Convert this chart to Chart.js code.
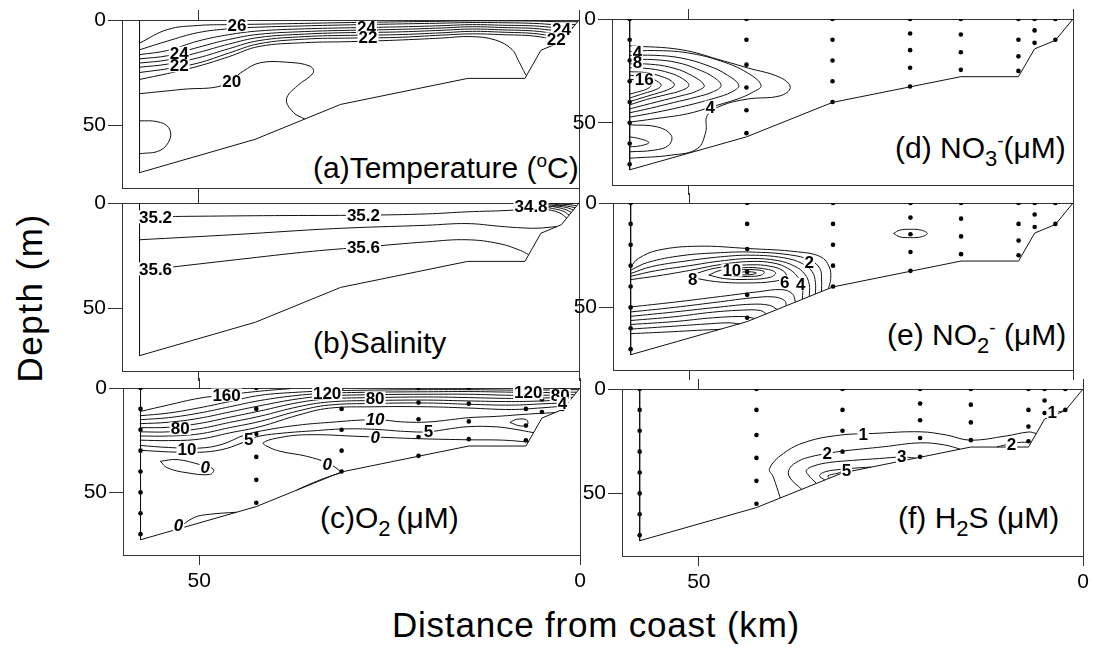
<!DOCTYPE html>
<html>
<head>
<meta charset="utf-8">
<title>Coastal section</title>
<script src="https://cdn.jsdelivr.net/npm/chart.js@4.4.1/dist/chart.umd.min.js"></script>
<style>
  body { margin: 0; background: #fff; }
  #fig { position: relative; width: 1093px; height: 649px; overflow: hidden; font-family: "Liberation Sans", Arial, sans-serif; color: #000; }
  #fig canvas { position: absolute; }
  .ttl { position: absolute; font-size: 30px; line-height: 30px; white-space: nowrap; }
  .ttl .sub { font-size: 22px; line-height: 0; position: relative; top: 8px; }
  .ttl .sup { font-size: 19px; line-height: 0; position: relative; top: -11px; }
  .ax { position: absolute; font-size: 35px; line-height: 35px; white-space: nowrap; }
</style>
</head>
<body>
<div id="fig">
  <div class="ttl" style="left:313px;top:153px">(a)Temperature (<span class="sup">o</span>C)</div>
  <div class="ttl" style="left:313px;top:328px">(b)Salinity</div>
  <div class="ttl" style="left:320px;top:503px">(c)O<span class="sub">2</span>&thinsp;(μM)</div>
  <div class="ttl" style="left:895px;top:133px">(d) NO<span class="sub">3</span><span class="sup">-</span>(μM)</div>
  <div class="ttl" style="left:887px;top:320px">(e) NO<span class="sub">2</span><span class="sup">-</span> (μM)</div>
  <div class="ttl" style="left:898px;top:503px">(f) H<span class="sub">2</span>S (μM)</div>
  <div class="ax" style="left:596px;top:607px;transform:translateX(-50%);letter-spacing:0.8px">Distance from coast (km)</div>
  <div class="ax" style="left:29px;top:298px;transform:translate(-50%,-50%) rotate(-90deg);letter-spacing:1.5px">Depth (m)</div>
</div>
<script>
// axes: distance from coast (km, coast on the right) and depth (m, down)
const depthTicks = [0, 50]
const distTicks = [50, 0]

// stations and bottles
const stationKm = [57.7, 42.5, 31.3, 21.2, 14.6, 7.1, 5.0, 2.3]
const sampleDepth = [
  [0, 10, 20, 30, 40, 50, 60, 70],
  [0, 10, 22, 33, 44, 55],
  [0, 10, 20, 30, 40],
  [0, 7, 15, 23.5, 32.5],
  [0, 7.5, 16, 24.5],
  [0, 10, 18, 25],
  [0, 5.5, 11.5],
  [0, 10]
]

// section outline (left edge + sea floor)
const bottomKm = [57.7, 57.7, 42.5, 31.3, 21.2, 14.6, 7.1, 5.0, 2.3, 0]
const bottomDepth = [0, 72.7, 56.8, 40.2, 32.7, 27.8, 27.8, 14.4, 10.3, 0]

// (a) temperature isolines, [km, depth]
const tempLines = [
  [[57.7,11],[54,4.5],[50,2.6],[46,2.2],[42,2.0],[36,1.6],[30,1.2],[24,0.9],[18,0.6],[14,0.4],[10,0.4],[6,0.5],[3,0.8],[0.18,0.8]],
  [[57.7,14.2],[54,10],[50,6],[46,4.2],[42,3.4],[36,2.8],[30,2.3],[24,1.9],[18,1.5],[14,1.2],[10,1.3],[6,1.6],[3,2.2],[0.5,2.2]],
  [[57.7,16.5],[54,14.5],[50,10],[46,7],[42,5.2],[36,4.2],[30,3.7],[24,3.3],[18,2.7],[14,2.2],[10,2.5],[6,2.8],[3,3.6],[0.8,3.6]],
  [[57.7,18.5],[54,17],[50,13],[46,9.3],[42,6.8],[36,5.5],[30,4.9],[24,4.5],[18,3.8],[14,3.2],[10,3.6],[6,4.0],[3,5.0],[1.12,5.0]],
  [[57.7,20.5],[54,19],[50,15.5],[46,11.5],[42,8.3],[36,6.7],[30,6.0],[24,5.7],[18,4.9],[14,4.3],[10,4.7],[6,5.2],[3,6.4],[1.43,6.4]],
  [[57.7,22.5],[54,21],[50,18],[46,13.7],[42,9.8],[36,7.9],[30,7.3],[24,7.0],[18,6.1],[14,5.4],[10,5.8],[6,6.4],[3,7.8],[1.74,7.8]],
  [[57.7,25],[54,23.2],[50,20.5],[46,15.8],[42,11.3],[36,9.1],[30,8.6],[24,8.3],[18,7.2],[14,6.6],[10,7.0],[6,7.6],[3,9.3],[2.08,9.3]],
  [[57.7,28.3],[54,25.5],[50,22],[46,17.5],[42,12.6],[36,10.8],[30,10.3],[24,9.6],[18,8.6],[14.3,7.9],[11,9.5],[8.8,14],[8,19],[7.3,24],[6.9,26.5]],
  [[57.7,35.1],[52,33],[46.7,31.1],[44.1,24.4],[41.9,20.4],[38.4,20.1],[35.3,22],[34.9,25.2],[37,31.4],[38.4,37.7],[37.5,44],[36,47.2]],
  [[57.7,48],[55.4,48.4],[53.9,51.1],[53.7,56.6],[55,62.1],[57.7,63.7]]
]
const tempLabels = [
  [44.9, 2.4, '26'], [27.9, 3.6, '24'], [27.7, 8.4, '22'], [52.5, 15.8, '24'],
  [52.5, 21.8, '22'], [45.6, 29.3, '20'], [2.3, 4.6, '24'], [3.0, 9.0, '22']
]

// (b) salinity isolines
const salLines = [
  [[57.7,6.6],[50,6.3],[40,6],[28.3,5.8],[20,5.2],[14.7,4.2],[8.6,3.4],[5,2.2],[2.5,1.2],[0.8,0.3]],
  [[57.7,17.5],[45,15],[32.2,12.2],[20,10.6],[14.7,9.8],[10.4,11.1],[8.2,11.7],[5.5,12],[2.9,11.2]],
  [[57.7,32.2],[55.6,31.4],[45,27],[35,23],[28.3,21],[20,18.5],[14.7,17.5],[10.4,19.4],[7.7,22.6],[6.6,24.6]],
  [[8.5,0.3],[6,1.8],[4,3.2],[2.5,4.8],[1.6,7.2]],
  [[7.5,0.2],[5.5,1.3],[3.5,2.6],[2,4],[1.3,5.8]],
  [[6.5,0.1],[4.8,1],[3,2],[1.7,3.2],[1.0,4.5]],
  [[5.5,0.1],[4,0.8],[2.5,1.6],[1.4,2.4],[0.75,3.4]],
  [[4.5,0.1],[3.2,0.6],[2,1.2],[1.1,1.8],[0.5,2.2]],
  [[3.5,0.05],[2.4,0.4],[1.4,0.8],[0.3,1.3]]
]
const salLabels = [
  [55.6, 6.6, '35.2'], [28.3, 5.8, '35.2'], [28.3, 21, '35.6'], [55.6, 31.4, '35.6'], [6.3, 1.8, '34.8']
]

// (c) oxygen isolines
const o2Lines = [
  [[57.8,11.3],[54,8.1],[50,4.9],[46.4,3.3],[42,1.5],[38,0.3]],
  [[57.8,13.3],[54,12],[50,9.5],[46,6.5],[42,3.5],[37,2.0],[33,1.4],[27,1.0],[20,0.8],[14.6,0.8],[9,1.0],[5,1.0],[2.5,0.8],[0.18,0.8]],
  [[57.8,15.2],[54,14.2],[50,12],[46,9],[42,6.0],[37,3.5],[33,2.5],[27,2.0],[20,1.8],[14.6,1.7],[9,2.0],[5,2.2],[2.5,2.0],[0.45,2.0]],
  [[57.8,17.1],[54,16.4],[50,14.5],[46,11.5],[42,8.5],[37,5.2],[33,3.8],[27,3.2],[20,3.0],[14.6,3.0],[9,3.5],[5,3.5],[2.5,3.2],[0.71,3.2]],
  [[57.8,19],[54,18.8],[50,17],[46,14],[42,11],[37,7.0],[33,5.2],[27,4.6],[20,4.3],[14.6,4.6],[9,5.0],[5,4.8],[2.5,4.5],[1.0,4.5]],
  [[57.8,21],[54,21],[50,19.5],[46,16.5],[42,13.5],[37,9],[33,6.7],[27,6.0],[20,5.8],[14.6,6.2],[9,6.5],[5,6.2],[2.5,5.8],[1.3,5.8]],
  [[57.8,23],[54,23],[50,22],[46,19],[42,16],[37,11],[33,8.2],[27,7.4],[20,7.2],[14.6,7.8],[9,8.2],[5,7.6],[2.5,7.2],[1.6,7.2]],
  [[57.8,25],[54,25.2],[50,24.5],[46,21.5],[42,18.5],[37,13],[33,9.7],[27,9.0],[20,9.0],[14.6,9.6],[9,10.3],[5,9.5],[2.5,8.8],[2.0,8.8]],
  [[57.8,27.5],[54,28.5],[50,28.8],[47,27],[44,22.5],[41,20],[37,17.8],[33,16.5],[27,15.2],[23,16.3],[20,16.3],[17,15.2],[14.6,14.2],[11,13.6],[8,12.8],[5.5,12.2],[3.3,11.8]],
  [[57.8,29.8],[54,30.6],[50,30.8],[47,29.5],[44.5,26.5],[43.5,24.8],[42,23],[39,21.6],[35,20.5],[31,19.6],[27,19.8],[23,20.8],[20,21],[17,19.5],[14.6,18.5],[11,18.6],[8.5,19.8],[6.1,21.4]],
  [[6.8,25.9],[10,25],[14.7,24.8],[21,24.3],[28.9,23.2],[35.9,22.4],[39.8,24],[41.6,26.3],[41.1,27.9],[39.4,30.3],[35.9,32.7],[33,36.2],[31.3,40.2]],
  [[55.1,35.1],[52.9,34.3],[49.9,36.7],[48.1,39],[48.6,41.4],[51.6,40.6],[54.2,38.2],[55.1,35.1]],
  [[52.9,67.7],[50.7,62.1],[48.6,60.5],[45.1,59.5]],
  [[37.2,48.9],[35,45.3],[33,42.5],[31.5,40.8]],
  [[9.2,16.5],[8.3,15],[7,15.3],[6.9,17.5],[7.8,18.2],[9.2,16.5]]
]
const o2Labels = [
  [46.4, 3.3, '160'], [33.2, 2.5, '120'], [26.9, 4.8, '80'], [6.8, 2.3, '120'], [2.6, 3.6, '80'],
  [52.5, 19.5, '80'], [51.6, 29.3, '10'], [43.5, 24.8, '5'], [19.9, 20.8, '5'], [2.3, 7.4, '4']
]
const o2LabelsItalic = [
  [26.9, 15.2, '10'], [26.9, 23.8, '0'], [33.2, 36.7, '0'], [49.2, 37.8, '0'], [52.7, 65.7, '0']
]

// (d) nitrate isolines
const no3Lines = [
  [[57.7,12.9],[51,14.8],[45.4,20.3],[42.4,23.5],[38.1,28.2],[36.8,33],[38.1,37],[42.4,38.6],[45.8,41.8],[47.6,46.5],[47.8,54.4],[48.9,62.5],[52.3,65.6],[57.7,67.1]],
  [[57.7,15.6],[54.5,15.2],[50.2,16.3],[45.8,20.3],[42.4,25.9],[40.6,32],[41.8,35.5],[43.7,38.6],[47.2,42.5],[50.2,45.7],[54.5,48.1],[57.7,49.7]],
  [[57.7,17.6],[54.5,17.5],[51,18.8],[47.5,22.5],[45,27],[43.5,32],[44.5,35.3],[46.5,38],[50,41.5],[54,44.8],[57.7,47.3]],
  [[57.7,19.5],[54.5,19.6],[51.5,21],[49,24],[46.8,28],[45.8,32],[46.8,35],[49,37.6],[52,40.3],[55,43],[57.7,45.2]],
  [[57.7,21.6],[55,21.8],[52.5,23.2],[50,26.5],[48,32],[49,34.8],[51,37],[54,39.8],[57.7,43.3]],
  [[57.7,23.5],[55,24],[52.5,26],[50.8,28.8],[50,32],[51,34.5],[53,36.5],[55.5,38.8],[57.7,41.4]],
  [[57.7,25.4],[55.5,25.9],[53.5,27.8],[52.3,29.8],[51.9,32],[52.8,34.2],[54.5,36.2],[57.7,39.8]],
  [[57.7,27.1],[55.5,28],[54.2,29.8],[53.6,32],[54.3,34],[55.8,35.8],[57.7,38.1]],
  [[57.7,29],[56,30],[55.1,31.3],[54.9,32.2],[55.5,33.8],[56.5,35],[57.7,36.2]],
  [[57.7,51],[54.1,52],[52.3,56],[52.6,60.8],[54.5,63.2],[57.7,64]],
  [[57.7,56.8],[56.5,57.6],[55.2,59.5],[56.3,61.1],[57.7,61.6]]
]
const no3Labels = [
  [56.7, 16, '4'], [56.7, 21.1, '8'], [55.8, 29, '16'], [47.2, 42.5, '4']
]

// (e) nitrite isolines
const no2Lines = [
  [[57.7,30.6],[56.7,26.6],[54.1,22.6],[48.9,20.7],[42.4,21.8],[35.9,23.4],[32.9,25.8],[31.8,30.6],[31.6,36.2],[31.9,41.1]],
  [[57.7,32.2],[55.5,28.5],[51,25.2],[46,23.8],[42,23.5],[37,24.8],[34.2,27.5],[33,31.5],[32.8,36.5],[32.8,42.4]],
  [[57.7,33.8],[55,30.5],[50.5,27.8],[46,25.8],[42,25],[37.8,26.2],[35.3,29],[34,33],[33.6,38],[33.6,43.6]],
  [[57.7,35.1],[54.5,32.5],[50,30],[46,27.8],[42,26.6],[38.5,27.6],[36.3,30.3],[35,34],[34.4,39],[34.4,44.8]],
  [[57.7,36.7],[54,34.8],[50,32.3],[46,29.5],[42,28],[39,28.8],[37.2,31.3],[36,35],[35.3,40],[35.3,46.1]],
  [[50,35.5],[48.5,33],[46,30.8],[42,29.6],[39.5,30.3],[37.8,32.5],[37.4,35.5],[39,37.5],[42.5,38.3],[46.5,37.7],[50,35.5]],
  [[47.5,34.5],[46,32.3],[43,31],[40.5,31.4],[38.8,33.3],[39.5,35.6],[42.5,36.6],[45.5,36.2],[47.5,34.5]],
  [[45.5,33.8],[44,32.3],[42,31.9],[40.3,32.8],[40.6,34.5],[42.5,35.2],[44.5,35],[45.5,33.8]],
  [[44,33.6],[42.5,32.9],[41.3,33.5],[42,34.3],[43.5,34.3],[44,33.6]],
  [[57.7,49.8],[52,47.5],[46,44.8],[41,42.5],[38,41.5],[36.6,43.5],[36.2,47.5]],
  [[57.7,52.2],[52,50],[46,47.3],[42,45.5],[39,45],[37.6,46.8],[37.4,49.2]],
  [[57.7,54.3],[52,52.2],[46,49.8],[42,48.5],[39.6,49],[38.6,51]],
  [[57.7,56.3],[52,54.5],[47,52.3],[43,51.3],[40.8,51.5],[40,53.1]],
  [[57.7,58.2],[52,56.8],[47,55],[43,54.4],[41.5,55.3]],
  [[57.7,60.4],[52,59],[48,58],[45,57.4],[43.5,57.9]],
  [[57.7,62.6],[53,61.8],[49,61],[46,60.5]],
  [[23.4,14.6],[22.6,13],[21.2,12.6],[19.8,13],[19,14.6],[19.8,16.2],[21.2,16.6],[22.6,16.2],[23.4,14.6]]
]
const no2Labels = [
  [34.4, 28.2, '2'], [44.5, 32.2, '10'], [49.6, 36.7, '8'], [37.6, 37.8, '6'], [35.5, 38.9, '4']
]

// (f) sulphide isolines
const h2sLines = [
  [[39.4,52.2],[40.3,42.2],[40.8,38.1],[39,30.9],[36,25.3],[31.6,22.1],[27.3,21.3],[21.2,20.5],[17.7,22.1],[14.7,24.5],[10,22.5],[7.1,20.6],[6.1,21.3]],
  [[36.6,48.1],[38.2,42.2],[38.2,38.1],[37,34.5],[35.5,32.5],[33.3,30.9],[31.2,29.7],[26,27.7],[21.2,25.8],[18,26.8],[16,28.8]],
  [[34.7,45.2],[35.8,41],[36,38.9],[35,36.8],[33,35.2],[30,34.2],[26.5,33.3],[23.6,32.6],[21.8,33.1]],
  [[33.6,43.6],[34.3,41.5],[33.5,39.6],[31.5,38.5],[29,37.7],[27.6,37.4]],
  [[33,42.7],[33.2,41.6],[32.2,40.6],[31,39.6],[30.3,39.45]],
  [[11.2,27.8],[9.5,26.3],[8,25.5],[7.2,25.6]],
  [[4.7,11.6],[3.5,11.1],[2.4,10.4]]
]
const h2sLabels = [
  [28.6, 21.8, '1'], [33.3, 30.9, '2'], [23.6, 32.4, '3'], [30.8, 38.9, '5'], [9.3, 26.3, '2'], [4.0, 11.0, '1']
]

// ---------- drawing ----------
const toXY = line => line.map(([x, y]) => ({x, y}))
const outline = bottomKm.map((x, i) => ({x, y: bottomDepth[i]}))
const samples = stationKm.flatMap((x, i) => sampleDepth[i].map(y => ({x, y})))
const tickFont = {family: '"Liberation Sans", Arial, sans-serif', size: 21}
const fixTicks = vals => s => { s.ticks = vals.map(v => ({value: v})) }
const axisLine = {color: '#333', width: 1}

function panel(f, lines, labels, italics, dots, xLabels) {
  const cv = document.createElement('canvas')
  cv.width = f.r - f.l + 86
  cv.height = f.b - f.t + 56
  cv.style.left = (f.l - 70) + 'px'
  cv.style.top = (f.t - 16) + 'px'
  document.getElementById('fig').appendChild(cv)

  const base = {xAxisID: 'x', yAxisID: 'y', pointRadius: 0, borderColor: '#111', borderWidth: 1, fill: false}
  const ds = lines.map(l => ({...base, data: toXY(l), showLine: true, tension: 0.4}))
  ds.push({...base, data: outline, showLine: true, tension: 0})
  if (dots) ds.push({...base, data: samples, showLine: false, pointRadius: 2.3, pointBackgroundColor: '#000', pointBorderWidth: 0})

  // isoline values written on the lines
  const labelPlugin = {
    id: 'isoLabels',
    afterDatasetsDraw(chart) {
      const {ctx, scales} = chart
      ctx.save()
      ctx.textAlign = 'center'
      ctx.textBaseline = 'middle'
      const put = (list, font) => {
        ctx.font = font
        list.forEach(([km, d, txt]) => {
          const px = scales.x.getPixelForValue(km)
          const py = scales.y.getPixelForValue(d)
          const w = ctx.measureText(txt).width
          ctx.fillStyle = '#fff'
          ctx.fillRect(px - w / 2 - 1, py - 6.5, w + 2, 13)
          ctx.fillStyle = '#000'
          ctx.fillText(txt, px, py + 1)
        })
      }
      put(labels, 'bold 17px "Liberation Sans"')
      put(italics, 'italic bold 17px "Liberation Sans"')
      ctx.restore()
    }
  }

  new Chart(cv, {
    type: 'scatter',
    data: {datasets: ds},
    options: {
      responsive: false, animation: false, events: [],
      layout: {padding: 0},
      plugins: {legend: {display: false}, tooltip: {enabled: false}},
      scales: {
        x: {type: 'linear', position: 'bottom', min: 0, max: 60, reverse: true,
            afterBuildTicks: fixTicks(distTicks), afterFit: s => { s.height = 40 },
            ticks: {display: xLabels, autoSkip: false, maxRotation: 0, padding: 4, color: '#000', font: tickFont},
            grid: {drawOnChartArea: false, tickLength: 10, color: '#333'}, border: axisLine},
        xTop: {type: 'linear', position: 'top', min: 0, max: 60, reverse: true,
            afterBuildTicks: fixTicks(distTicks), afterFit: s => { s.height = 16 },
            ticks: {display: false}, grid: {drawOnChartArea: false, tickLength: 10, color: '#333'}, border: axisLine},
        y: {type: 'linear', position: 'left', min: 0, max: 80, reverse: true,
            afterBuildTicks: fixTicks(depthTicks), afterFit: s => { s.width = 70 },
            ticks: {padding: 2, color: '#000', font: tickFont},
            grid: {drawOnChartArea: false, tickLength: 14, color: '#333'}, border: axisLine},
        yRight: {type: 'linear', position: 'right', min: 0, max: 80, reverse: true,
            afterFit: s => { s.width = 16 }, ticks: {display: false}, grid: {display: false}, border: axisLine}
      }
    },
    plugins: [labelPlugin]
  })
}

panel({l: 122, t: 20, r: 579, b: 188}, tempLines, tempLabels, [], false, false)
panel({l: 122, t: 203, r: 579, b: 371}, salLines, salLabels, [], false, false)
panel({l: 123, t: 388, r: 580, b: 555}, o2Lines, o2Labels, o2LabelsItalic, true, true)
panel({l: 612, t: 19, r: 1073, b: 185}, no3Lines, no3Labels, [], true, false)
panel({l: 613, t: 203, r: 1073, b: 370}, no2Lines, no2Labels, [], true, false)
panel({l: 622, t: 389, r: 1083, b: 556}, h2sLines, h2sLabels, [], true, true)
</script>
</body>
</html>
